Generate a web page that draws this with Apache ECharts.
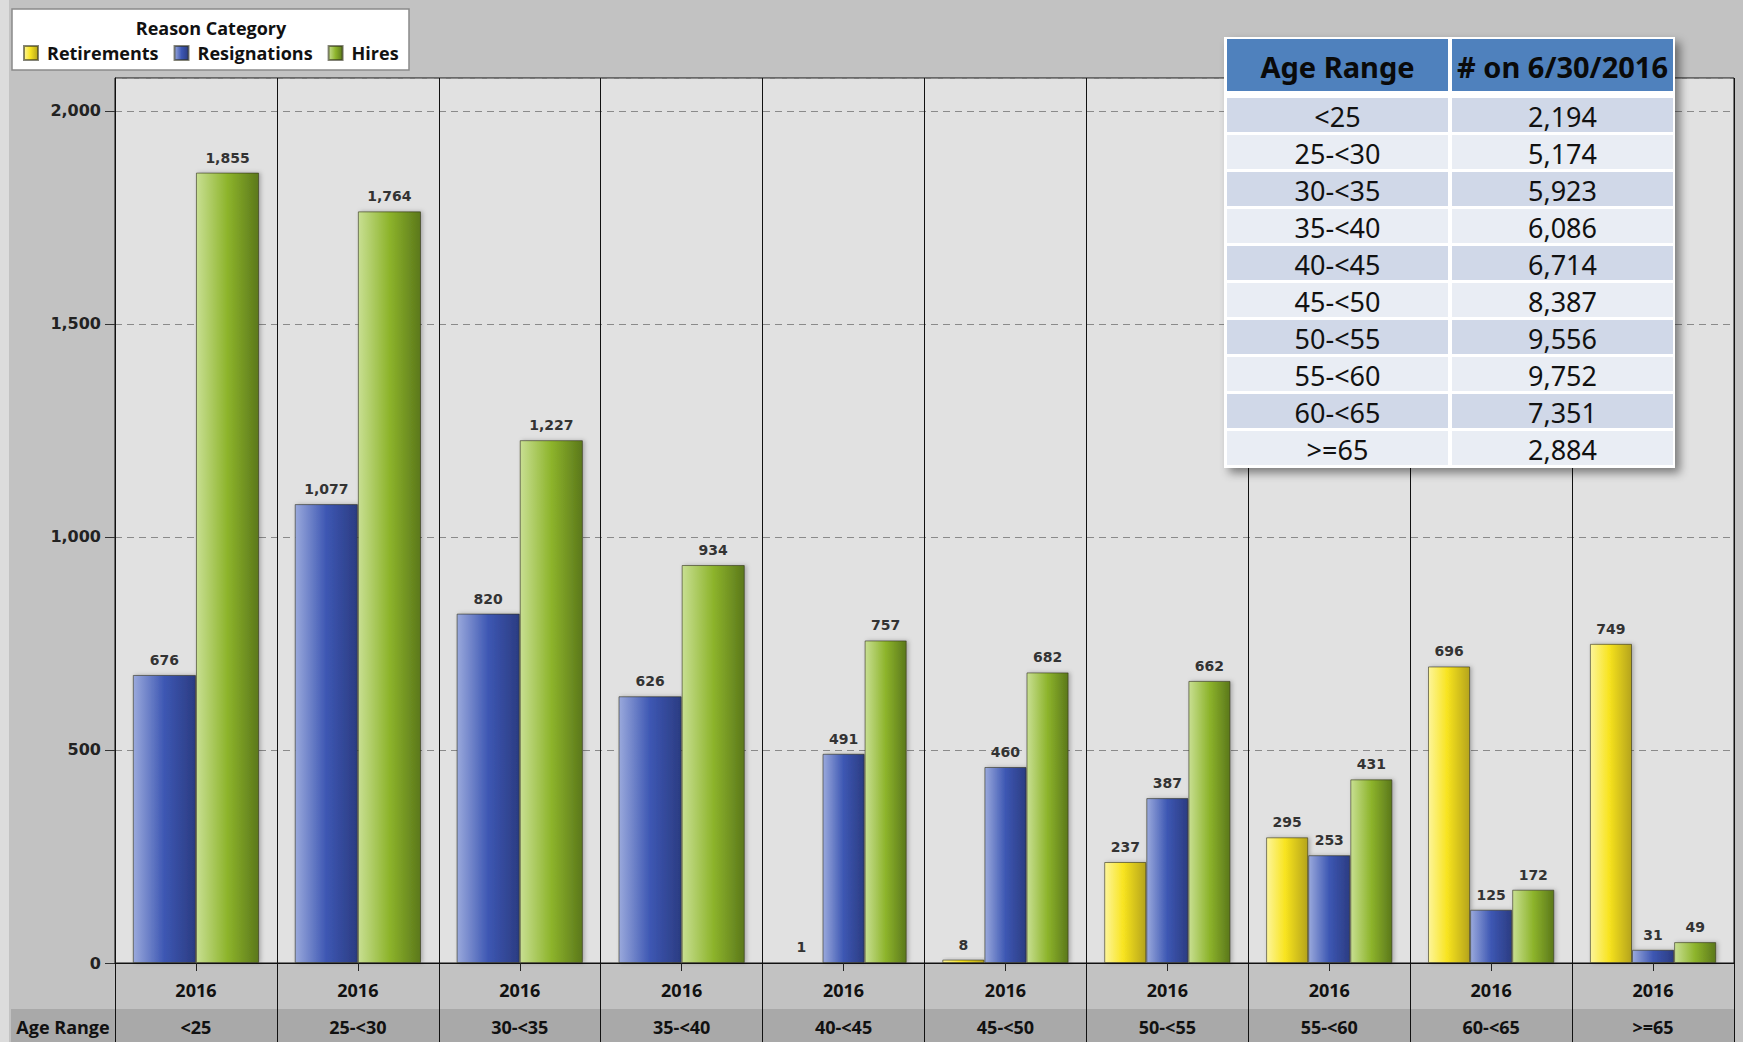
<!DOCTYPE html>
<html>
<head>
<meta charset="utf-8">
<title>Retirements, Resignations and Hires by Age Range</title>
<script src="https://cdn.jsdelivr.net/npm/echarts@6/dist/echarts.min.js"></script>
<style>
  html, body { margin: 0; padding: 0; background: #c2c2c2; }
  #chart { width: 1743px; height: 1042px; }
</style>
</head>
<body>
<div id="chart"></div>
<script>
// ---- data ----
const ageRanges = ['<25', '25-<30', '30-<35', '35-<40', '40-<45', '45-<50', '50-<55', '55-<60', '60-<65', '>=65'];
const yearLabels = ['2016', '2016', '2016', '2016', '2016', '2016', '2016', '2016', '2016', '2016'];
const retirements = [null, null, null, null, 1, 8, 237, 295, 696, 749];
const resignations = [676, 1077, 820, 626, 491, 460, 387, 253, 125, 31];
const hires = [1855, 1764, 1227, 934, 757, 682, 662, 431, 172, 49];
const yTicks = [0, 500, 1000, 1500, 2000];

// headcount table
const tableHeader = ['Age Range', '# on 6/30/2016'];
const headcount = [2194, 5174, 5923, 6086, 6714, 8387, 9556, 9752, 7351, 2884];

const fmt = v => Number(v).toLocaleString('en-US');

// Groups without retirements are drawn with two wider bars,
// groups with retirements use three narrower slots.
const hasRet = retirements.map(v => v != null);
const only = (arr, keep) => arr.map((v, i) => (keep(i) ? v : null));
const threeSlot = i => hasRet[i];
const twoSlot = i => !hasRet[i];

function barStyle(stops) {
  return {
    color: new echarts.graphic.LinearGradient(0, 0, 1, 0, stops),
    borderColor: 'rgba(50,50,30,0.6)',
    borderWidth: 1,
    shadowBlur: 4,
    shadowColor: 'rgba(0,0,0,0.25)',
    shadowOffsetX: 2
  };
}
const yellowStops = [
  { offset: 0, color: '#fdf59a' }, { offset: 0.45, color: '#f8e420' }, { offset: 1, color: '#b5a41a' }
];
const blueStops = [
  { offset: 0, color: '#9aa9dc' }, { offset: 0.5, color: '#3d57b3' }, { offset: 1, color: '#2b3c82' }
];
const greenStops = [
  { offset: 0, color: '#c8df92' }, { offset: 0.5, color: '#8db42b' }, { offset: 1, color: '#5b781b' }
];

const valueLabel = {
  show: true,
  position: 'top',
  distance: 8,
  color: '#333',
  fontFamily: 'DejaVu Sans',
  fontWeight: 'bold',
  fontSize: 14,
  formatter: p => fmt(p.value)
};

function bar(name, data, axis, stops) {
  return {
    name, type: 'bar', data,
    xAxisIndex: axis, yAxisIndex: 0,
    barGap: '0%', barCategoryGap: '22%',
    itemStyle: barStyle(stops),
    label: valueLabel,
    emphasis: { disabled: true }
  };
}

const catFont = { fontFamily: 'Open Sans', fontWeight: 'bold', fontSize: 18, color: '#111' };

// ---- table and frame graphics ----
const TBL = { x: 1224, y: 37, w: 451, h: 431, c1x: 1227, c1w: 221, c2x: 1452, c2w: 221, headY: 39, headH: 52, rowY: 98, rowPitch: 37, rowH: 34 };
const graphics = [
  { type: 'rect', z: 1, shape: { x: 0, y: 0, width: 9, height: 1042 }, style: { fill: '#dcdcdc' } },
  { type: 'rect', z: 1, shape: { x: 11, y: 1009, width: 1723, height: 33 }, style: { fill: '#a9a9a9' } },
  { type: 'text', z: 6, x: 63, y: 1027,
    style: { text: 'Age Range', font: 'bold 18px "Open Sans"', fill: '#111', textAlign: 'center', textVerticalAlign: 'middle' } },
  // legend frame
  { type: 'rect', z: 1, shape: { x: 12, y: 9, width: 397, height: 61 }, style: { fill: '#ffffff', stroke: '#8a8a8a', lineWidth: 1.5 } },
  { type: 'text', z: 6, x: 211, y: 28,
    style: { text: 'Reason Category', font: 'bold 18px "Open Sans"', fill: '#111', textAlign: 'center', textVerticalAlign: 'middle' } },
  // table body
  { type: 'rect', z: 10, shape: { x: TBL.x, y: TBL.y, width: TBL.w, height: TBL.h },
    style: { fill: '#ffffff', shadowBlur: 10, shadowOffsetX: 5, shadowOffsetY: 5, shadowColor: 'rgba(0,0,0,0.45)' } },
  { type: 'rect', z: 11, shape: { x: TBL.c1x, y: TBL.headY, width: TBL.c1w, height: TBL.headH }, style: { fill: '#4f81bd' } },
  { type: 'rect', z: 11, shape: { x: TBL.c2x, y: TBL.headY, width: TBL.c2w, height: TBL.headH }, style: { fill: '#4f81bd' } },
  { type: 'text', z: 12, x: TBL.c1x + TBL.c1w / 2, y: TBL.headY + TBL.headH / 2 + 1,
    style: { text: tableHeader[0], font: 'bold 29px "Noto Sans"', fill: '#0a0a0a', textAlign: 'center', textVerticalAlign: 'middle' } },
  { type: 'text', z: 12, x: TBL.c2x + TBL.c2w / 2, y: TBL.headY + TBL.headH / 2 + 1,
    style: { text: tableHeader[1], font: 'bold 29px "Noto Sans"', fill: '#0a0a0a', textAlign: 'center', textVerticalAlign: 'middle' } }
];
ageRanges.forEach((age, i) => {
  const y = TBL.rowY + i * TBL.rowPitch;
  const fill = i % 2 === 0 ? '#d0d8e8' : '#e9edf4';
  graphics.push(
    { type: 'rect', z: 11, shape: { x: TBL.c1x, y, width: TBL.c1w, height: TBL.rowH }, style: { fill } },
    { type: 'rect', z: 11, shape: { x: TBL.c2x, y, width: TBL.c2w, height: TBL.rowH }, style: { fill } },
    { type: 'text', z: 12, x: TBL.c1x + TBL.c1w / 2, y: y + TBL.rowH / 2 + 1,
      style: { text: age, font: '27px "Noto Sans"', fill: '#111', textAlign: 'center', textVerticalAlign: 'middle' } },
    { type: 'text', z: 12, x: TBL.c2x + TBL.c2w / 2, y: y + TBL.rowH / 2 + 1,
      style: { text: fmt(headcount[i]), font: '27px "Noto Sans"', fill: '#111', textAlign: 'center', textVerticalAlign: 'middle' } }
  );
});

const chart = echarts.init(document.getElementById('chart'), null, { renderer: 'svg' });
chart.setOption({
  backgroundColor: '#c2c2c2',
  animation: false,
  grid: {
    left: 115, right: 9, top: 78, bottom: 79,
    show: true, backgroundColor: '#e1e1e1', borderColor: '#111', borderWidth: 1
  },
  legend: {
    data: ['Retirements', 'Resignations', 'Hires'],
    left: 18, top: 39,
    itemWidth: 14, itemHeight: 14, itemGap: 15,
    icon: 'rect', z: 6,
    selectedMode: false,
    textStyle: { fontFamily: 'Open Sans', fontWeight: 'bold', fontSize: 18, color: '#111', lineHeight: 18, padding: [0, 0, 0, 4] }
  },
  xAxis: [
    {
      type: 'category', data: yearLabels, position: 'bottom', z: 5,
      axisLine: { show: true, lineStyle: { color: '#111', width: 1 } },
      axisTick: { show: true, alignWithLabel: true, length: 8, lineStyle: { color: '#222' } },
      axisLabel: Object.assign({ margin: 18, interval: 0 }, catFont),
      splitLine: { show: true, interval: 0, lineStyle: { color: '#111', width: 1 } }
    },
    {
      type: 'category', data: ageRanges, position: 'bottom', z: 5,
      axisLine: { show: false },
      axisTick: { show: true, alignWithLabel: false, interval: 0, length: 79, lineStyle: { color: '#111', width: 1 } },
      axisLabel: Object.assign({ margin: 55, interval: 0 }, catFont),
      splitLine: { show: false }
    }
  ],
  yAxis: {
    type: 'value', min: yTicks[0], max: 2077, interval: yTicks[1] - yTicks[0],
    axisLine: { show: true, lineStyle: { color: '#111' } },
    axisTick: { show: true, length: 10, lineStyle: { color: '#333' } },
    axisLabel: {
      showMaxLabel: false, margin: 14,
      fontFamily: 'DejaVu Sans', fontWeight: 'bold', fontSize: 16, color: '#222',
      formatter: v => fmt(v)
    },
    splitLine: { show: true, lineStyle: { color: '#8a8a8a', type: [7, 5], width: 1 } }
  },
  series: [
    bar('Retirements', only(retirements, threeSlot), 0, yellowStops),
    bar('Resignations', only(resignations, threeSlot), 0, blueStops),
    bar('Hires', only(hires, threeSlot), 0, greenStops),
    bar('Resignations', only(resignations, twoSlot), 1, blueStops),
    bar('Hires', only(hires, twoSlot), 1, greenStops)
  ],
  graphic: { elements: graphics }
});
</script>
</body>
</html>
